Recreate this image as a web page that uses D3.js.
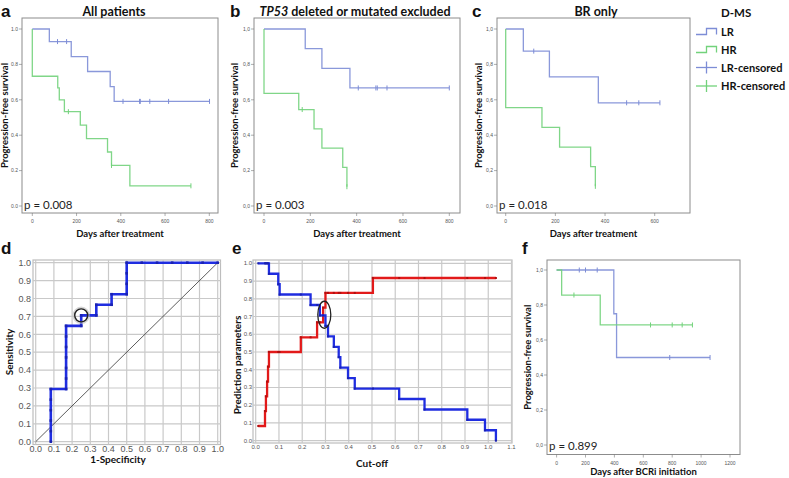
<!DOCTYPE html>
<html><head><meta charset="utf-8">
<script src="https://cdn.jsdelivr.net/npm/d3@7"></script>
<style>body{margin:0;background:#fff}svg{display:block}</style>
</head><body>
<svg id="c" width="789" height="478"></svg>
<script>
// ---------------- DATA ----------------
const kmYTicks = [0, 0.2, 0.4, 0.6, 0.8, 1.0];
const kmXTicksAB = [0, 200, 400, 600, 800];
const kmXTicksC = [0, 200, 400, 600];
const kmXTicksF = [0, 200, 400, 600, 800, 1000, 1200];

// Panel a: All patients
const aLRTime = [77, 176, 250, 352, 370];
const aLRSurv = [0.929, 0.844, 0.760, 0.675, 0.591];
const aLRCens = [114, 155, 410, 485, 488, 531, 616, 801];
const aLREnd = 801;
const aHRTime = [0, 115, 122, 145, 217, 245, 340, 358, 441];
const aHRSurv = [0.733, 0.667, 0.600, 0.533, 0.457, 0.381, 0.305, 0.229, 0.114];
const aHRCens = [163, 358, 717];
const aHREnd = 717;

// Panel b: TP53 excluded
const bLRTime = [178, 250, 371];
const bLRSurv = [0.889, 0.778, 0.667];
const bLRCens = [407, 483, 489, 531, 800];
const bLREnd = 800;
const bHRTime = [0, 150, 216, 250, 340, 358];
const bHRSurv = [0.636, 0.545, 0.436, 0.327, 0.218, 0.109];
const bHRCens = [165, 358];
const bHREnd = 358;

// Panel c: BR only
const cLRTime = [71, 176, 373];
const cLRSurv = [0.875, 0.729, 0.583];
const cLRCens = [113, 487, 536, 621];
const cLREnd = 621;
const cHRTime = [0, 146, 217, 342, 361];
const cHRSurv = [0.556, 0.444, 0.333, 0.222, 0.111];
const cHRCens = [361];
const cHREnd = 361;

// Panel f: after BCRi initiation
const fLRTime = [396, 415];
const fLRSurv = [0.75, 0.5];
const fLRCens = [157, 200, 281, 783, 1062];
const fLREnd = 1062;
const fHRTime = [35, 302];
const fHRSurv = [0.857, 0.686];
const fHRCens = [120, 650, 800, 869, 940];
const fHREnd = 940;

const pValues = ["p = 0.008", "p = 0.003", "p = 0.018", "p = 0.899"];
const legendLabels = ["LR", "HR", "LR-censored", "HR-censored"];

// Panel d: ROC
const dFPR = [0.083, 0.083, 0.083, 0.083, 0.083, 0.083, 0.167, 0.167, 0.167, 0.167, 0.167, 0.167, 0.167, 0.250, 0.250, 0.333, 0.333, 0.417, 0.417, 0.500, 0.500, 0.500, 0.500, 0.583, 0.667, 0.750, 0.833, 0.917, 1.000];
const dTPR = [0.000, 0.059, 0.118, 0.176, 0.235, 0.294, 0.294, 0.353, 0.412, 0.471, 0.529, 0.588, 0.647, 0.647, 0.706, 0.706, 0.765, 0.765, 0.824, 0.824, 0.882, 0.941, 1.000, 1.000, 1.000, 1.000, 1.000, 1.000, 1.000];
const dTicks = [0, 0.1, 0.2, 0.3, 0.4, 0.5, 0.6, 0.7, 0.8, 0.9, 1.0];
const dHighlight = [0.25, 0.706];

// Panel e: prediction parameters vs cut-off
const eBlueX = [0.011, 0.057, 0.097, 0.103, 0.236, 0.276, 0.300, 0.311, 0.336, 0.357, 0.364, 0.397, 0.426, 0.617, 0.726, 0.910, 0.986, 1.033];
const eBlueY = [1.000, 0.941, 0.882, 0.824, 0.765, 0.706, 0.647, 0.588, 0.529, 0.471, 0.412, 0.353, 0.294, 0.235, 0.176, 0.118, 0.059, 0.000];
const eRedX = [0.011, 0.040, 0.044, 0.049, 0.053, 0.057, 0.194, 0.264, 0.290, 0.300, 0.504, 1.033];
const eRedY = [0.083, 0.167, 0.250, 0.333, 0.417, 0.500, 0.583, 0.667, 0.750, 0.833, 0.917, 0.917];
const eXTicks = [0, 0.1, 0.2, 0.3, 0.4, 0.5, 0.6, 0.7, 0.8, 0.9, 1.0, 1.1];
const eYTicks = [0, 0.1, 0.2, 0.3, 0.4, 0.5, 0.6, 0.7, 0.8, 0.9, 1.0];
const eHighlight = [0.295, 0.71];

// ---------------- STYLE ----------------
const LRC = "#7d8dd6", HRC = "#72d27b";
const ROCBLUE = "#1f2de0", ROCRED = "#e21a1a";
const svg = d3.select("#c");
const FONT = "Lato, 'Open Sans', sans-serif";
const TICKF = "'Liberation Sans', Arial, sans-serif";

function survAt(times, surv, t) { let s = 1; times.forEach((tt, i) => { if (tt <= t) s = surv[i]; }); return s; }
function kmPath(x, y, times, surv, end) {
  const p = d3.path(); p.moveTo(x(0), y(1)); let cy = y(1);
  times.forEach((t, i) => { p.lineTo(x(t), cy); cy = y(surv[i]); p.lineTo(x(t), cy); });
  p.lineTo(x(end), cy); return p.toString();
}

function kmPanel(o) {
  const g = svg.append("g");
  const [L, T, R, B] = o.box;
  const x = d3.scaleLinear().domain([0, o.xmax]).range(o.xr);
  const y = d3.scaleLinear().domain([0, 1]).range(o.yr);
  g.append("rect").attr("x", L).attr("y", T).attr("width", R - L).attr("height", B - T)
    .attr("fill", "none").attr("stroke", "#8c8c8c").attr("stroke-width", 1);
  o.yticks.forEach(v => {
    g.append("line").attr("x1", L - 3).attr("x2", L).attr("y1", y(v)).attr("y2", y(v)).attr("stroke", "#777").attr("stroke-width", 0.6);
    g.append("text").attr("x", L - 4).attr("y", y(v) + 1.8).attr("text-anchor", "end")
      .attr("font-family", TICKF).attr("font-size", 5).attr("fill", "#555")
      .text(d3.format(".1f")(v).replace(".", o.dec));
  });
  o.xticks.forEach(v => {
    g.append("line").attr("x1", x(v)).attr("x2", x(v)).attr("y1", B).attr("y2", B + 3).attr("stroke", "#777").attr("stroke-width", 0.6);
    g.append("text").attr("x", x(v)).attr("y", B + 10).attr("text-anchor", "middle")
      .attr("font-family", TICKF).attr("font-size", 5).attr("fill", "#555").text(v);
  });
  o.series.forEach(s => {
    g.append("path").attr("d", kmPath(x, y, s.t, s.s, s.end)).attr("fill", "none")
      .attr("stroke", s.c).attr("stroke-width", 1.3).attr("stroke-opacity", 0.9);
    s.cens.forEach(ct => {
      const yy = y(survAt(s.t, s.s, ct));
      g.append("line").attr("x1", x(ct)).attr("x2", x(ct)).attr("y1", yy - 2.5).attr("y2", yy + 2.5)
        .attr("stroke", s.c).attr("stroke-width", 1);
    });
  });
  g.append("text").attr("x", L + 2).attr("y", B - 4.5).attr("font-family", FONT).attr("font-size", 11.5)
    .attr("fill", "#222").text(o.p);
  g.append("text").attr("transform", `translate(${o.ylabX},${(T + B) / 2}) rotate(-90)`).attr("text-anchor", "middle")
    .attr("font-family", FONT).attr("font-weight", "bold").attr("font-size", 9.5).attr("fill", "#111")
    .text("Progression-free survival");
  g.append("text").attr("x", (L + R) / 2).attr("y", o.xlabY).attr("text-anchor", "middle")
    .attr("font-family", FONT).attr("font-weight", "bold").attr("font-size", 9.5).attr("fill", "#111")
    .text(o.xlab);
}

kmPanel({box: [22, 18, 218, 213], xmax: 800, xr: [32.3, 209.3], yr: [206, 29], yticks: kmYTicks, xticks: kmXTicksAB, dec: ".",
  series: [{t: aLRTime, s: aLRSurv, cens: aLRCens, end: aLREnd, c: LRC}, {t: aHRTime, s: aHRSurv, cens: aHRCens, end: aHREnd, c: HRC}],
  p: pValues[0], ylabX: 8, xlab: "Days after treatment", xlabY: 237});
kmPanel({box: [254, 18, 460, 213], xmax: 800, xr: [264, 449.3], yr: [206, 29], yticks: kmYTicks, xticks: kmXTicksAB, dec: ",",
  series: [{t: bLRTime, s: bLRSurv, cens: bLRCens, end: bLREnd, c: LRC}, {t: bHRTime, s: bHRSurv, cens: bHRCens, end: bHREnd, c: HRC}],
  p: pValues[1], ylabX: 238, xlab: "Days after treatment", xlabY: 237});
kmPanel({box: [497, 18, 690, 213], xmax: 600, xr: [505.7, 654.7], yr: [206, 29], yticks: kmYTicks, xticks: kmXTicksC, dec: ",",
  series: [{t: cLRTime, s: cLRSurv, cens: cLRCens, end: cLREnd, c: LRC}, {t: cHRTime, s: cHRSurv, cens: cHRCens, end: cHREnd, c: HRC}],
  p: pValues[2], ylabX: 482, xlab: "Days after treatment", xlabY: 237});
kmPanel({box: [547, 260, 740, 454.5], xmax: 1200, xr: [556.6, 730], yr: [445, 270], yticks: kmYTicks, xticks: kmXTicksF, dec: ",",
  series: [{t: fLRTime, s: fLRSurv, cens: fLRCens, end: fLREnd, c: LRC}, {t: fHRTime, s: fHRSurv, cens: fHRCens, end: fHREnd, c: HRC}],
  p: pValues[3], ylabX: 531, xlab: "Days after BCRi initiation", xlabY: 475});

function txt(x, y, s, size, weight, anchor) {
  return svg.append("text").attr("x", x).attr("y", y).attr("font-family", FONT).attr("font-size", size)
    .attr("font-weight", weight || "normal").attr("text-anchor", anchor || "start").attr("fill", "#111").text(s);
}
txt(114, 15.5, "All patients", 12.5, "bold", "middle");
const tb = svg.append("text").attr("x", 355).attr("y", 15.5).attr("font-family", FONT).attr("font-size", 12.5)
  .attr("font-weight", "bold").attr("text-anchor", "middle").attr("fill", "#111");
tb.append("tspan").attr("font-style", "italic").text("TP53");
tb.append("tspan").text(" deleted or mutated excluded");
txt(596, 15.5, "BR only", 12.5, "bold", "middle");

[["a", 1, 17], ["b", 230, 17], ["c", 472, 17], ["d", 1, 254], ["e", 232, 254], ["f", 522, 254]].forEach(d => {
  svg.append("text").attr("x", d[1]).attr("y", d[2]).attr("font-family", TICKF).attr("font-weight", "bold")
    .attr("font-size", 17).attr("fill", "#111").text(d[0]);
});

// Legend
txt(721, 17, "D-MS", 11.5, "bold");
const lg = svg.append("g");
const legColors = [LRC, HRC, LRC, HRC];
const legY = [31.5, 49.5, 67.5, 86];
legendLabels.forEach((lab, i) => {
  const yy = legY[i], c = legColors[i];
  if (i < 2) {
    lg.append("path").attr("d", `M696,${yy + 3}H706.5V${yy - 3}H716.5V${yy + 3}`).attr("fill", "none").attr("stroke", c).attr("stroke-width", 1.3);
  } else {
    lg.append("line").attr("x1", 696).attr("x2", 717).attr("y1", yy).attr("y2", yy).attr("stroke", c).attr("stroke-width", 1.3);
    lg.append("line").attr("x1", 706.5).attr("x2", 706.5).attr("y1", yy - 6).attr("y2", yy + 6).attr("stroke", c).attr("stroke-width", 1.3);
  }
  txt(721, yy + 4, lab, 11, "bold");
});

// ---------- Panel d: ROC ----------
(function () {
  const g = svg.append("g");
  const x = d3.scaleLinear().domain([0, 1]).range([35.7, 217.7]);
  const y = d3.scaleLinear().domain([0, 1]).range([441.7, 262.7]);
  g.append("rect").attr("x", 33).attr("y", 260).attr("width", 187.5).attr("height", 184.5).attr("fill", "none").attr("stroke", "#bdbdbd").attr("stroke-width", 1.2);
  dTicks.forEach(v => {
    g.append("line").attr("x1", x(v)).attr("x2", x(v)).attr("y1", 260).attr("y2", 444.5).attr("stroke", "#c9c9c9").attr("stroke-width", 1.2);
    g.append("line").attr("y1", y(v)).attr("y2", y(v)).attr("x1", 33).attr("x2", 220.5).attr("stroke", "#c9c9c9").attr("stroke-width", 1.2);
    g.append("text").attr("x", x(v)).attr("y", 452).attr("text-anchor", "middle").attr("font-family", TICKF).attr("font-size", 9).attr("fill", "#555").text(d3.format(".1f")(v));
    g.append("text").attr("x", 31).attr("y", y(v) + 3.2).attr("text-anchor", "end").attr("font-family", TICKF).attr("font-size", 9).attr("fill", "#555").text(d3.format(".1f")(v));
  });
  g.append("line").attr("x1", x(0)).attr("y1", y(0)).attr("x2", x(1)).attr("y2", y(1)).attr("stroke", "#333").attr("stroke-width", 0.8);
  const line = d3.line().x((d, i) => x(dFPR[i])).y((d, i) => y(dTPR[i]));
  g.append("path").attr("d", line(dFPR)).attr("fill", "none").attr("stroke", ROCBLUE).attr("stroke-width", 2.6).attr("stroke-linejoin", "miter");
  dFPR.forEach((v, i) => g.append("rect").attr("x", x(v) - 1.3).attr("y", y(dTPR[i]) - 1.3).attr("width", 2.6).attr("height", 2.6).attr("fill", "#1a22b0"));
  g.append("circle").attr("cx", x(dHighlight[0])).attr("cy", y(dHighlight[1])).attr("r", 7.5).attr("fill", "none").attr("stroke", "#bbb").attr("stroke-width", 2.5).attr("opacity", 0.6);
  g.append("circle").attr("cx", x(dHighlight[0])).attr("cy", y(dHighlight[1])).attr("r", 6.5).attr("fill", "none").attr("stroke", "#222").attr("stroke-width", 1.4);
  g.append("text").attr("transform", `translate(13,352) rotate(-90)`).attr("text-anchor", "middle").attr("font-family", FONT).attr("font-weight", "bold").attr("font-size", 10).attr("fill", "#111").text("Sensitivity");
  g.append("text").attr("x", 118).attr("y", 463).attr("text-anchor", "middle").attr("font-family", FONT).attr("font-weight", "bold").attr("font-size", 10).attr("fill", "#111").text("1-Specificity");
})();

// ---------- Panel e ----------
(function () {
  const g = svg.append("g");
  const x = d3.scaleLinear().domain([0, 1.1]).range([255.7, 511.5]);
  const y = d3.scaleLinear().domain([0, 1]).range([440.7, 263.3]);
  g.append("rect").attr("x", 253).attr("y", 260).attr("width", 259).attr("height", 183).attr("fill", "none").attr("stroke", "#bdbdbd").attr("stroke-width", 1.2);
  eXTicks.forEach(v => {
    g.append("line").attr("x1", x(v)).attr("x2", x(v)).attr("y1", 260).attr("y2", 443).attr("stroke", "#c9c9c9").attr("stroke-width", 1.2);
    g.append("text").attr("x", x(v)).attr("y", 449).attr("text-anchor", "middle").attr("font-family", TICKF).attr("font-size", 6).attr("fill", "#555").text(d3.format(".1f")(v));
  });
  eYTicks.forEach(v => {
    g.append("line").attr("y1", y(v)).attr("y2", y(v)).attr("x1", 253).attr("x2", 512).attr("stroke", "#c9c9c9").attr("stroke-width", 1.2);
    g.append("text").attr("x", 252).attr("y", y(v) + 2).attr("text-anchor", "end").attr("font-family", TICKF).attr("font-size", 6).attr("fill", "#555").text(d3.format(".1f")(v));
  });
  function stepP(X, Y) { const p = d3.path(); p.moveTo(x(X[0]), y(Y[0])); for (let i = 1; i < X.length; i++) { p.lineTo(x(X[i]), y(Y[i - 1])); p.lineTo(x(X[i]), y(Y[i])); } return p.toString(); }
  g.append("path").attr("d", stepP(eRedX, eRedY)).attr("fill", "none").attr("stroke", ROCRED).attr("stroke-width", 2.3);
  g.append("path").attr("d", stepP(eBlueX, eBlueY)).attr("fill", "none").attr("stroke", ROCBLUE).attr("stroke-width", 2.3);
  const cuts = Array.from(new Set(eBlueX.concat(eRedX))).sort((a, b) => a - b);
  function valAt(X, Y, c) { let v = null; X.forEach((xx, i) => { if (xx <= c + 1e-9) v = Y[i]; }); return v; }
  [[eRedX, eRedY, "#b01010"], [eBlueX, eBlueY, "#1a22b0"]].forEach(([X, Y, col]) => {
    cuts.forEach(c => { const v = valAt(X, Y, c); if (v === null || c > X[X.length - 1] + 1e-9) return;
      g.append("rect").attr("x", x(c) - 1).attr("y", y(v) - 1).attr("width", 2).attr("height", 2).attr("fill", col); });
  });
  g.append("ellipse").attr("cx", x(eHighlight[0])).attr("cy", y(eHighlight[1])).attr("rx", 6.5).attr("ry", 13.5).attr("fill", "none").attr("stroke", "#222").attr("stroke-width", 1.3);
  g.append("text").attr("transform", `translate(241,365) rotate(-90)`).attr("text-anchor", "middle").attr("font-family", FONT).attr("font-weight", "bold").attr("font-size", 10).attr("fill", "#111").text("Prediction parameters");
  g.append("text").attr("x", 372).attr("y", 467).attr("text-anchor", "middle").attr("font-family", FONT).attr("font-weight", "bold").attr("font-size", 10).attr("fill", "#111").text("Cut-off");
})();
</script>
</body></html>
